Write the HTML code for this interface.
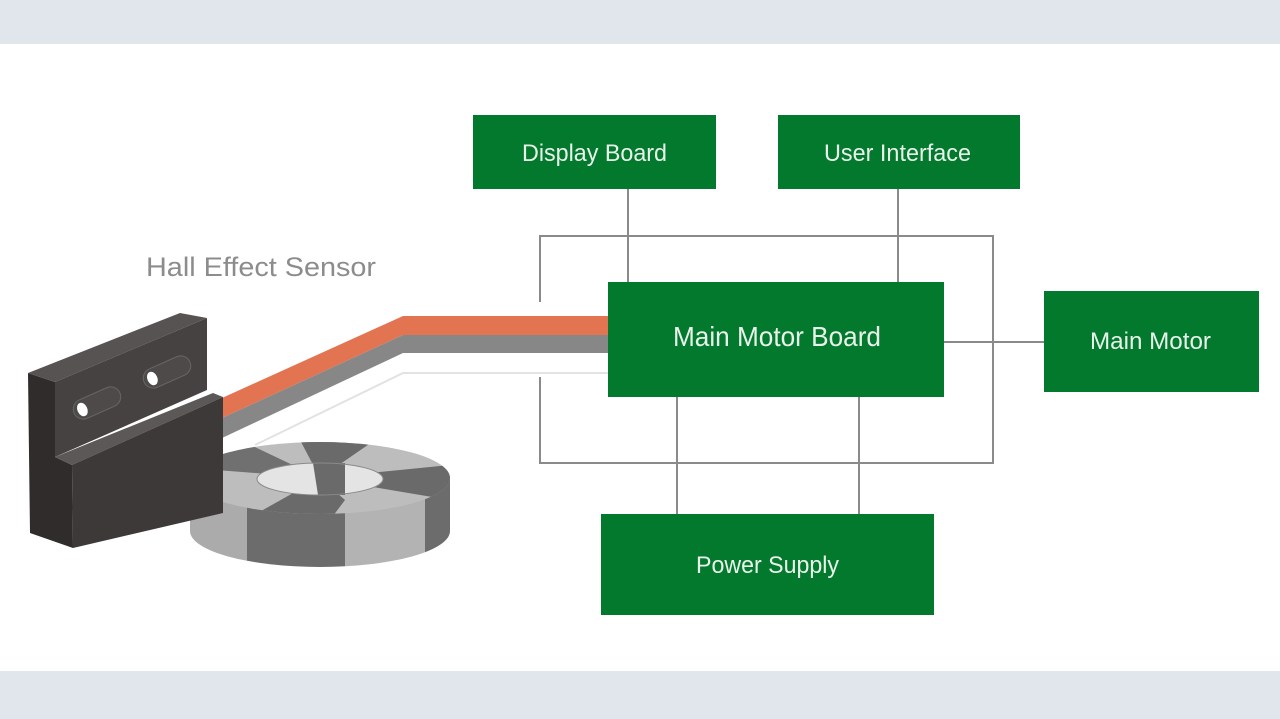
<!DOCTYPE html>
<html><head><meta charset="utf-8"><style>
html,body{margin:0;padding:0;background:#fff;width:1280px;height:719px;overflow:hidden}
svg{display:block}
text{font-family:"Liberation Sans Narrow","Liberation Sans",sans-serif}
</style></head><body>
<svg width="1280" height="719" viewBox="0 0 1280 719" xmlns="http://www.w3.org/2000/svg">
<rect x="0" y="0" width="1280" height="44" fill="#e1e5ec"/>
<rect x="0" y="671" width="1280" height="48" fill="#e1e5ec"/>

<g stroke="#8a8a8a" stroke-width="2" fill="none">
<polyline points="540,302 540,236 993,236 993,463 540,463 540,377"/>
<line x1="628" y1="189" x2="628" y2="282"/>
<line x1="898" y1="189" x2="898" y2="282"/>
<line x1="677" y1="397" x2="677" y2="514"/>
<line x1="859" y1="397" x2="859" y2="514"/>
<line x1="944" y1="342" x2="1044" y2="342"/>
</g>

<polygon points="222,398 403,316 610,316 610,335 403,335 222,418" fill="#e37452"/>
<polygon points="222,418 403,335 610,335 610,353 403,353 222,438" fill="#878787"/>
<polyline points="255,445 403,373 608,373" stroke="#e2e2e2" stroke-width="2" fill="none"/>

<defs>
<clipPath id="top"><ellipse cx="320" cy="478" rx="130" ry="36"/></clipPath>
<clipPath id="side"><path d="M190,478 L190,531 A130,36 0 0 0 450,531 L450,478 Z"/></clipPath>
</defs>
<g clip-path="url(#side)">
<rect x="185" y="470" width="62" height="110" fill="#ababab"/>
<rect x="247" y="470" width="98" height="110" fill="#6c6c6c"/>
<rect x="345" y="470" width="80" height="110" fill="#b3b3b3"/>
<rect x="425" y="470" width="30" height="110" fill="#6c6c6c"/>
</g>
<g clip-path="url(#top)">
<rect x="185" y="435" width="270" height="90" fill="#bdbdbd"/>
<polygon points="320,478 300,440 375,440" fill="#6a6a6a"/>
<polygon points="320,478 450,465 450,500" fill="#6a6a6a"/>
<polygon points="320,478 190,468 190,445 240,440" fill="#707070"/>
<polygon points="320,478 245,520 330,520 345,500" fill="#6a6a6a"/>
</g>
<ellipse cx="320" cy="479" rx="63" ry="16" fill="#e4e4e4"/>
<polygon points="313,463 345,463 345,495 318,495" fill="#6a6a6a"/>
<ellipse cx="320" cy="479" rx="63" ry="16" fill="none" stroke="#8a8a8a" stroke-width="1"/>

<polygon points="28,373 55,382 55,457 72,465 73,548 30,533" fill="#2f2c2b"/>
<polygon points="55,382 207,318 207,390 55,457" fill="#464241"/>
<polygon points="28,373 180,313 207,318 55,382" fill="#575352"/>
<polygon points="55,457 213,393 223,397 72,465" fill="#5c5857"/>
<polygon points="72,465 223,397 223,513 73,548" fill="#3d3938"/>
<g transform="translate(97,403) rotate(-24)"><rect x="-25" y="-10" width="50" height="20" rx="10" fill="#4e4a49" stroke="#666" stroke-width="1"/><ellipse cx="-16" cy="0" rx="5" ry="7" fill="#fff"/></g>
<g transform="translate(167,372) rotate(-24)"><rect x="-25" y="-10" width="50" height="20" rx="10" fill="#4e4a49" stroke="#666" stroke-width="1"/><ellipse cx="-16" cy="0" rx="5" ry="7" fill="#fff"/></g>

<text x="146" y="276" font-size="27" fill="#8c8c8c" textLength="230" lengthAdjust="spacingAndGlyphs">Hall Effect Sensor</text>

<g fill="#03792e">
<rect x="473" y="115" width="243" height="74"/>
<rect x="778" y="115" width="242" height="74"/>
<rect x="608" y="282" width="336" height="115"/>
<rect x="1044" y="291" width="215" height="101"/>
<rect x="601" y="514" width="333" height="101"/>
</g>
<g fill="#e8f2ea">
<text x="522" y="161" font-size="24" textLength="145" lengthAdjust="spacingAndGlyphs">Display Board</text>
<text x="824" y="161" font-size="24" textLength="147" lengthAdjust="spacingAndGlyphs">User Interface</text>
<text x="673" y="346" font-size="28" textLength="208" lengthAdjust="spacingAndGlyphs">Main Motor Board</text>
<text x="1090" y="349" font-size="24" textLength="121" lengthAdjust="spacingAndGlyphs">Main Motor</text>
<text x="696" y="573" font-size="24" textLength="143" lengthAdjust="spacingAndGlyphs">Power Supply</text>
</g>
</svg>
</body></html>
